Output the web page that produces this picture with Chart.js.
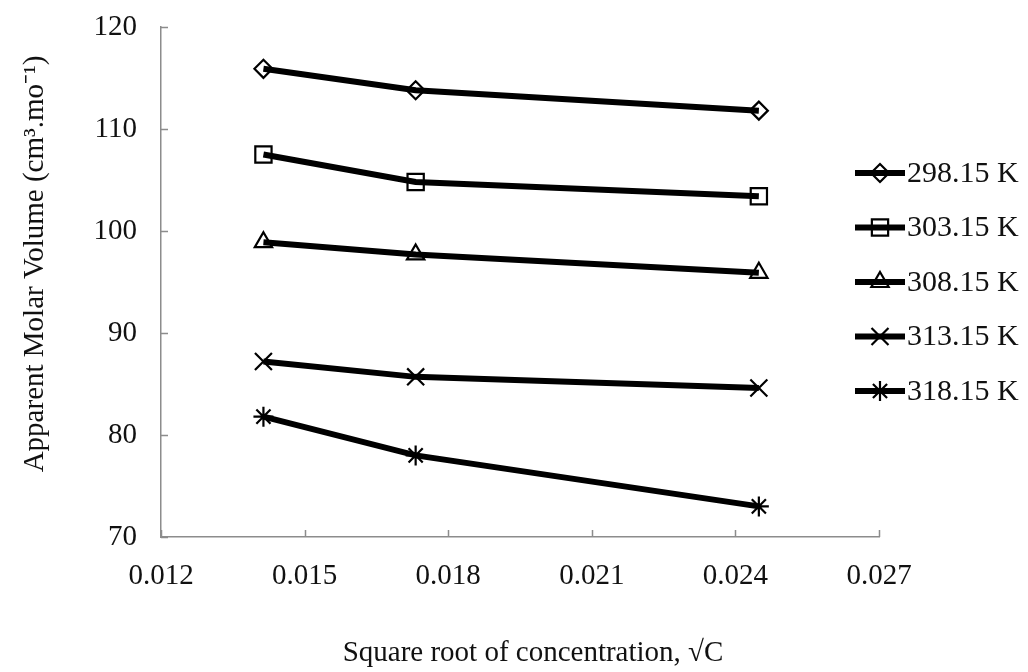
<!DOCTYPE html>
<html>
<head>
<meta charset="utf-8">
<script src="https://cdn.jsdelivr.net/npm/chart.js@4.4.1/dist/chart.umd.min.js"></script>
<style>
  html, body { margin: 0; padding: 0; background: #fff; }
  #chart { display: block; }
</style>
</head>
<body>
<canvas id="chart" width="1028" height="672"></canvas>
<script>
// sqrt(C) values shared by every temperature series
const sqrtC = [0.01414, 0.01732, 0.02449];

const temps = ['298.15 K', '303.15 K', '308.15 K', '313.15 K', '318.15 K'];
const v298 = [115.9, 113.8, 111.8];
const v303 = [107.5, 104.8, 103.4];
const v308 = [98.9, 97.7, 95.9];
const v313 = [87.2, 85.7, 84.6];
const v318 = [81.8, 78.0, 73.0];

const xTicks = [0.012, 0.015, 0.018, 0.021, 0.024, 0.027];
const yTicks = [70, 80, 90, 100, 110, 120];

const xTitle = 'Square root of concentration, \u221AC';
const yTitle = 'Apparent Molar Volume (cm\u00B3.mo\u207B\u00B9)';

const FONT = '"Liberation Serif", "Times New Roman", serif';
const AXIS_GREY = '#8c8c8c';

const markers = [
    { style: 'rectRot',  radius: 9 },
    { style: 'rect',     radius: 11.5 },
    { style: 'triangle', radius: 10 },
    { style: 'crossRot', radius: 12 },
    { style: 'star',     radius: 10 },
];

const allValues = [v298, v303, v308, v313, v318];

const datasets = allValues.map((vals, i) => ({
    label: temps[i],
    data: vals.map((v, k) => ({ x: sqrtC[k], y: v })),
    borderColor: '#000',
    borderWidth: 6,
    pointStyle: markers[i].style,
    pointRadius: markers[i].radius,
    pointBorderColor: '#000',
    pointBorderWidth: 2.2,
    pointBackgroundColor: 'rgba(0,0,0,0)',
    tension: 0,
}));

// inward tick marks like the original spreadsheet chart
const innerTicks = {
    id: 'innerTicks',
    afterDraw(chart) {
        const { ctx, scales: { x, y } } = chart;
        ctx.save();
        ctx.strokeStyle = AXIS_GREY;
        ctx.lineWidth = 1.5;
        ctx.beginPath();
        yTicks.forEach(t => {
            const py = Math.round(y.getPixelForValue(t)) + 0.5;
            ctx.moveTo(x.left, py);
            ctx.lineTo(x.left + 7, py);
        });
        xTicks.forEach(t => {
            const px = Math.round(x.getPixelForValue(t)) + 0.5;
            ctx.moveTo(px, y.bottom);
            ctx.lineTo(px, y.bottom - 7);
        });
        ctx.stroke();
        ctx.restore();
    }
};

// axis titles, placed a bit off the plot centre as in the original
const axisTitles = {
    id: 'axisTitles',
    afterDraw(chart) {
        const ctx = chart.ctx;
        ctx.save();
        ctx.fillStyle = '#111';
        ctx.font = '29px ' + FONT;
        ctx.textAlign = 'center';
        ctx.textBaseline = 'middle';
        ctx.fillText(xTitle, 533, 653);
        ctx.translate(35, 264);
        ctx.rotate(-Math.PI / 2);
        ctx.fillText(yTitle, 0, 0);
        ctx.restore();
    }
};

// legend with a short line through each marker
const lineLegend = {
    id: 'lineLegend',
    afterDraw(chart) {
        const ctx = chart.ctx;
        const x0 = 855, x1 = 905, top = 173, step = 54.5;
        ctx.save();
        chart.data.datasets.forEach((ds, i) => {
            const cy = top + i * step;
            ctx.strokeStyle = '#000';
            ctx.lineWidth = 6;
            ctx.beginPath();
            ctx.moveTo(x0, cy);
            ctx.lineTo(x1, cy);
            ctx.stroke();
            ctx.lineWidth = ds.pointBorderWidth;
            ctx.fillStyle = ds.pointBackgroundColor;
            Chart.helpers.drawPoint(ctx, {
                pointStyle: ds.pointStyle,
                radius: ds.pointRadius,
                borderWidth: ds.pointBorderWidth,
                rotation: 0,
            }, (x0 + x1) / 2, cy);
            ctx.fillStyle = '#111';
            ctx.font = '30px ' + FONT;
            ctx.textBaseline = 'middle';
            ctx.textAlign = 'left';
            ctx.fillText(ds.label, x1 + 2, cy + 1);
        });
        ctx.restore();
    }
};

new Chart(document.getElementById('chart').getContext('2d'), {
    type: 'line',
    data: { datasets },
    options: {
        responsive: false,
        animation: false,
        layout: { autoPadding: false, padding: { left: 0, right: 149, top: 27, bottom: 0 } },
        plugins: {
            legend: { display: false },
            tooltip: { enabled: false },
        },
        scales: {
            x: {
                type: 'linear',
                min: 0.012,
                max: 0.027,
                afterBuildTicks: s => { s.ticks = xTicks.map(v => ({ value: v })); },
                afterFit: s => { s.height = 135; },
                grid: { display: false, drawTicks: false },
                border: { color: AXIS_GREY, width: 1.5 },
                ticks: {
                    color: '#111',
                    padding: 22,
                    font: { family: FONT, size: 29 },
                    callback: v => v.toFixed(3),
                },
            },
            y: {
                min: 70,
                max: 120,
                afterBuildTicks: s => { s.ticks = yTicks.map(v => ({ value: v })); },
                afterFit: s => { s.width = 161; },
                // hidden tick length gives the label gap without padding the top
                grid: { display: false, drawTicks: true, tickLength: 24 },
                border: { color: AXIS_GREY, width: 1.5 },
                ticks: {
                    color: '#111',
                    padding: 0,
                    font: { family: FONT, size: 29 },
                },
            },
        },
    },
    plugins: [innerTicks, axisTitles, lineLegend],
});
</script>
</body>
</html>
